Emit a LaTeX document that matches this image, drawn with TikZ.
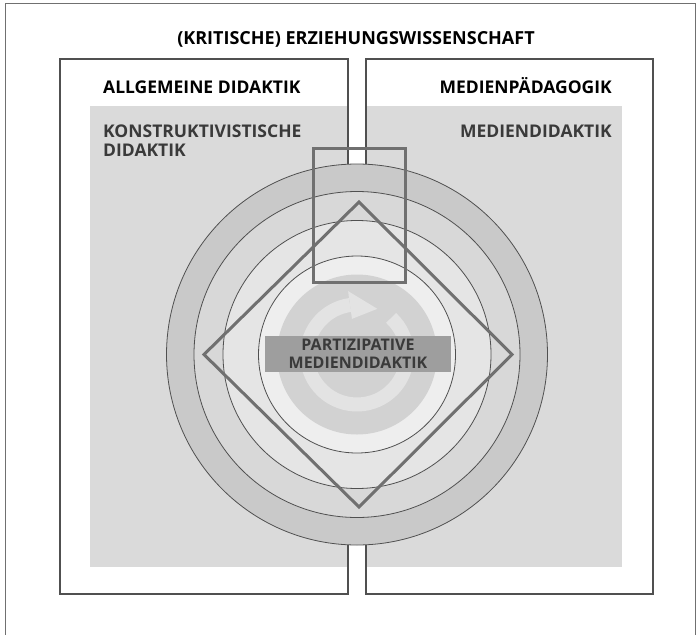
\documentclass[tikz,border=0pt]{standalone}
\usepackage{fontspec}
\setsansfont{Open Sans}
\usetikzlibrary{calc}
\definecolor{areagray}{HTML}{DADADA}
\definecolor{ringa}{HTML}{C9C9C9}
\definecolor{ringb}{HTML}{D8D8D8}
\definecolor{ringc}{HTML}{E5E5E5}
\definecolor{ringd}{HTML}{EEEEEE}
\definecolor{diskgray}{HTML}{D2D2D2}
\definecolor{arrowgray}{HTML}{E3E3E3}
\definecolor{framegray}{HTML}{707070}
\definecolor{linegray}{HTML}{505050}
\definecolor{labelgray}{HTML}{9E9E9E}
\definecolor{textgray}{HTML}{3A3A3A}
\tikzset{
  boxline/.style={draw=linegray,line width=1.2pt},
  ring/.style={draw=linegray,line width=.8pt},
  marker/.style={draw=framegray,line width=3pt,line join=miter},
}
\tikzstyle{head}=[font=\sffamily\bfseries\fontsize{17.5}{19}\selectfont,inner sep=0pt]
\tikzstyle{sub}=[head,text=textgray,align=left]
\begin{document}
\begin{tikzpicture}[x=1pt,y=-1pt]
        \useasboundingbox (0,0) rectangle (700,634);
        \fill[white] (0,0) rectangle (700,634);
        \draw[framegray,line width=1pt] (5,640)--(5,4)--(695,4)--(695,640);
        % two fields
        \draw[boxline] (60,59) rectangle (348,594);
        \draw[boxline] (366,59) rectangle (653,594);
        \fill[areagray] (90,106) rectangle (347.4,567);
        \fill[areagray] (366.6,106) rectangle (622,567);
        % rings
        \coordinate (c) at (357,354.5);
        \filldraw[ring,fill=ringa] (c) circle[radius=190.5];
        \filldraw[ring,fill=ringb] (c) circle[radius=163];
        \filldraw[ring,fill=ringc] (c) circle[radius=134];
        \filldraw[ring,fill=ringd] (c) circle[radius=98.5];
        \fill[diskgray] (c) circle[radius=80];
        \draw[arrowgray,line width=14pt] (c) ++(-47:50) arc[start angle=-47,end angle=262,radius=50];
        \fill[arrowgray] ($(c)+(-98:36)$) -- ($(c)+(-98:64)$) -- ($(c)+(-66:50)$) -- cycle;
        % rectangle and diamond
        \draw[marker] (313.5,148.5) rectangle (405,282.5);
        \draw[marker] (359,202)--(512,354.5)--(359,507)--(204,354.5)--cycle;
        \node[fill=labelgray,minimum width=186pt,minimum height=36pt,inner sep=0pt] (lab) at (358,354) {};
        \node[sub,align=center,text=textgray,font=\sffamily\bfseries\fontsize{16}{18}\selectfont] (part) at (lab) {PARTIZIPATIVE\\MEDIENDIDAKTIK};
        % texts
        \node[head,anchor=base,font=\sffamily\bfseries\fontsize{18}{20}\selectfont] (title) at (356,45) {(KRITISCHE) ERZIEHUNGSWISSENSCHAFT};
        \node[head,anchor=base west] (allg) at (103,93) {ALLGEMEINE DIDAKTIK};
        \node[head,anchor=base east] (medp) at (612,93) {MEDIENPÄDAGOGIK};
        \node[sub,anchor=base west] (konst) at (103,156) {KONSTRUKTIVISTISCHE\\DIDAKTIK};
        \node[sub,anchor=base east] (medd) at (612,137) {MEDIENDIDAKTIK};
      \end{tikzpicture}
\end{document}
